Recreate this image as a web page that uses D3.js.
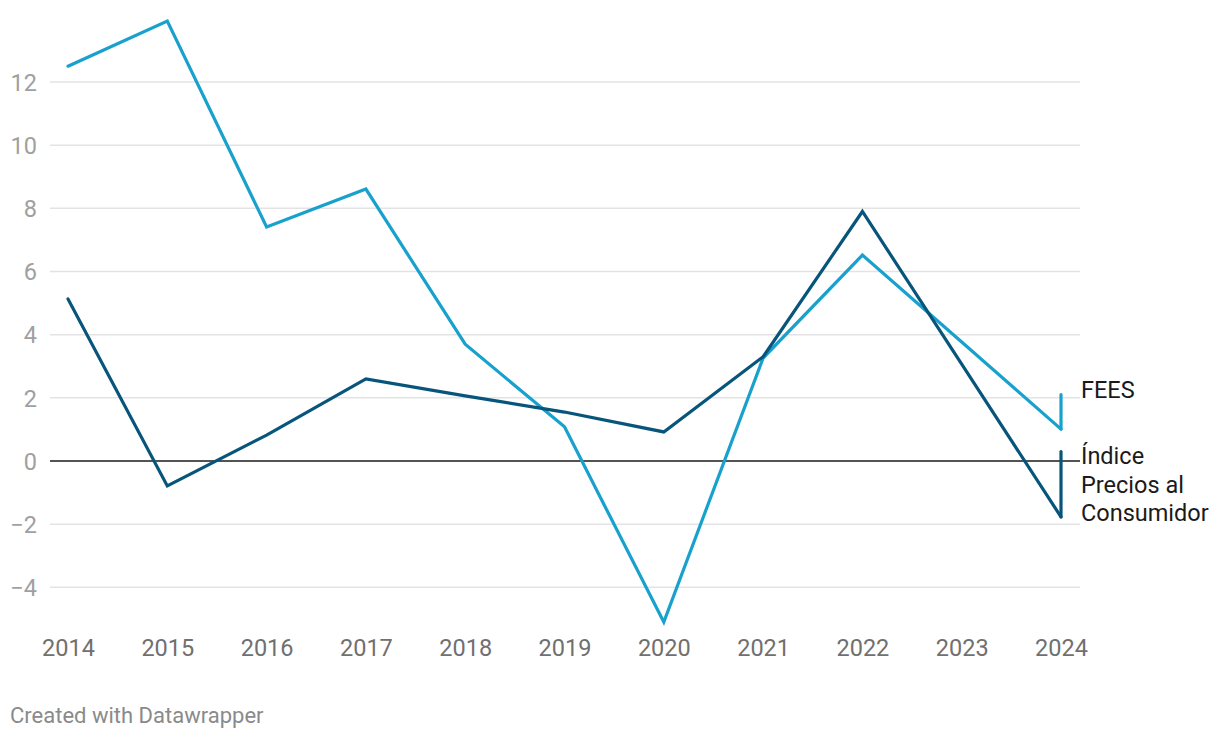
<!DOCTYPE html>
<html><head><meta charset="utf-8">
<script src="https://cdn.jsdelivr.net/npm/d3@7"></script>
<style>
body{margin:0;background:#fff;}
text{font-family:Roboto, "Noto Sans", sans-serif;}
</style></head>
<body>
<svg id="c" width="1220" height="738"></svg>
<script>
const years = [2014,2015,2016,2017,2018,2019,2020,2021,2022,2023,2024];
const fees = [12.5,13.93,7.41,8.61,3.7,1.08,-5.1,3.26,6.52,3.77,1.01];
const ipc = [5.13,-0.79,0.82,2.6,2.06,1.55,0.92,3.3,7.9,3.07,-1.77];
const yTicks = [-4,-2,0,2,4,6,8,10,12];
const seriesNames = ["FEES", ["Índice","Precios al","Consumidor"]];
const colors = ["#18a1cd","#08557b"];

const svg = d3.select("#c");
const x = d3.scaleLinear().domain([2014,2024]).range([68,1061]);
const y = d3.scaleLinear().domain([0,12]).range([461,82]);
const gx0 = 50, gx1 = 1080;

// grid
const yAxis = d3.axisLeft(y).tickValues(yTicks).tickSize(0).tickPadding(0)
  .tickFormat(d => d < 0 ? "\u2212" + Math.abs(d) : String(d));
const ga = svg.append("g").attr("transform","translate(37,0)").call(yAxis);
ga.select(".domain").remove();
ga.selectAll("text").attr("font-size",23.5).attr("fill","#a0a0a0").attr("font-family","Roboto").attr("dy","0.35em");
svg.append("g").selectAll("line").data(yTicks.filter(d=>d!==0)).join("line")
  .attr("x1",gx0).attr("x2",gx1).attr("y1",d=>y(d)).attr("y2",d=>y(d))
  .attr("stroke","#e3e3e3").attr("stroke-width",1.5);

// x axis
const xAxis = d3.axisBottom(x).tickValues(years).tickSize(0).tickPadding(0).tickFormat(d3.format("d"));
const gxa = svg.append("g").attr("transform","translate(0,648)").call(xAxis);
gxa.select(".domain").remove();
gxa.selectAll("text").attr("font-size",23.5).attr("fill","#707070").attr("font-family","Roboto").attr("dy","0.35em");

// zero line
svg.append("line").attr("x1",gx0).attr("x2",gx1).attr("y1",y(0)).attr("y2",y(0))
  .attr("stroke","#1a1a1a").attr("stroke-width",1.5);

const line = d3.line().x((d,i)=>x(years[i])).y(d=>y(d));
const data = [fees, ipc];
const labelTop = [2.1, 0.3]; // y value where connector ends (label anchor)
data.forEach((s,k)=>{
  svg.append("path").datum(s).attr("d",line).attr("fill","none")
    .attr("stroke",colors[k]).attr("stroke-width",3.2).attr("stroke-linejoin","miter").attr("stroke-linecap","round");
  const last = s[s.length-1];
  svg.append("line").attr("x1",x(2024)).attr("x2",x(2024))
    .attr("y1",y(last)).attr("y2",y(labelTop[k]))
    .attr("stroke",colors[k]).attr("stroke-width",3.2).attr("stroke-linecap","round");
});

// labels
svg.append("text").attr("x",1081).attr("y",390).attr("dy","0.35em")
  .attr("font-size",23.5).attr("fill","#1a1a1a").text(seriesNames[0]);
const t = svg.append("text").attr("x",1081).attr("y",456)
  .attr("font-size",23.5).attr("fill","#1a1a1a");
seriesNames[1].forEach((s,i)=>t.append("tspan").attr("x",1081).attr("dy", i===0?"0.35em":"28.5").text(s));

svg.append("text").attr("x",10).attr("y",715).attr("dy","0.35em")
  .attr("font-size",22).attr("fill","#8a8a8a").text("Created with Datawrapper");
</script>
</body></html>
